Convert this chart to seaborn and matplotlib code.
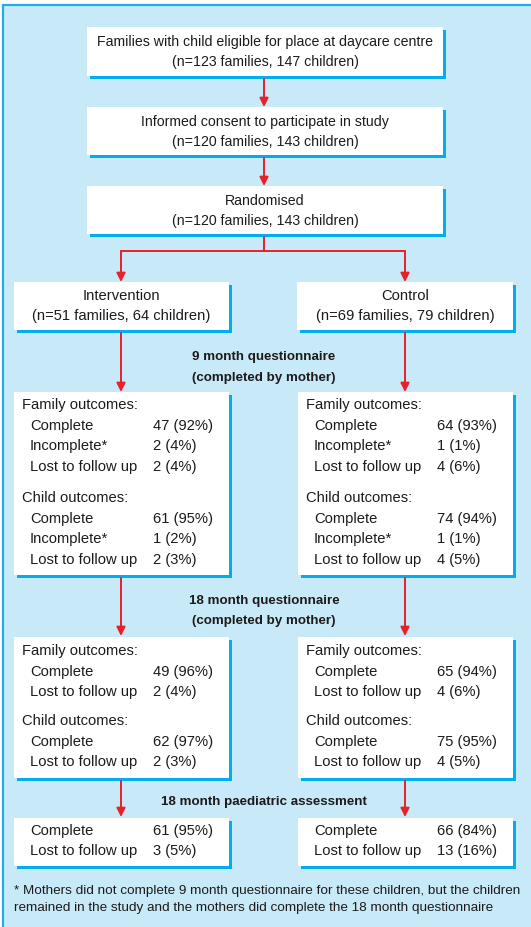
import matplotlib
matplotlib.use("Agg")
import matplotlib.pyplot as plt
import seaborn as sns
from matplotlib.patches import Rectangle

# --- data -------------------------------------------------------------
top_titles = ["Families with child eligible for place at daycare centre",
              "Informed consent to participate in study",
              "Randomised"]
top_families = [123, 120, 120]
top_children = [147, 143, 143]

arms = ["Intervention", "Control"]
arm_families = [51, 69]
arm_children = [64, 79]

stage_titles = ["9 month questionnaire\n(completed by mother)",
                "18 month questionnaire\n(completed by mother)",
                "18 month paediatric assessment"]

q9_labels = ["Complete", "Incomplete*", "Lost to follow up"]
q9_family_n = [[47, 2, 2], [64, 1, 4]]
q9_family_pct = [[92, 4, 4], [93, 1, 6]]
q9_child_n = [[61, 1, 2], [74, 1, 4]]
q9_child_pct = [[95, 2, 3], [94, 1, 5]]

q18_labels = ["Complete", "Lost to follow up"]
q18_family_n = [[49, 2], [65, 4]]
q18_family_pct = [[96, 4], [94, 6]]
q18_child_n = [[62, 2], [75, 4]]
q18_child_pct = [[97, 3], [95, 5]]

paed_labels = ["Complete", "Lost to follow up"]
paed_n = [[61, 3], [66, 13]]
paed_pct = [[95, 5], [84, 16]]

footnote = ("* Mothers did not complete 9 month questionnaire for these children, but the children\n"
            "remained in the study and the mothers did complete the 18 month questionnaire")

# --- style ------------------------------------------------------------
sns.set_theme(style="white")
plt.rcParams["font.family"] = ["Liberation Sans", "DejaVu Sans"]

BG = "#c8eaf8"
EDGE = "#22ade6"
SHADOW = "#00aeef"
RED = "#e8202a"
INK = "#1d1a1b"
FS = 10.6      # box text
FS_TOP = 10.2  # top chain boxes
FS_B = 9.6     # bold stage titles
FS_NOTE = 9.7  # footnote

fig = plt.figure(figsize=(5.31, 9.27), dpi=100)
ax = fig.add_axes([0, 0, 1, 1])
ax.set_xlim(0, 531)
ax.set_ylim(927, 0)
ax.axis("off")

ax.add_patch(Rectangle((3, 5), 540, 940, facecolor=BG, edgecolor="none"))
ax.plot([3, 531], [5, 5], color=EDGE, lw=1.6)
ax.plot([3, 3], [5, 927], color=EDGE, lw=1.6)


def box(x0, y0, x1, y1):
    ax.add_patch(Rectangle((x0 + 3, y0 + 3), x1 - x0, y1 - y0, facecolor=SHADOW, edgecolor="none"))
    ax.add_patch(Rectangle((x0, y0), x1 - x0, y1 - y0, facecolor="white", edgecolor="none"))


def arrow(x, y0, y1):
    ax.annotate("", xy=(x, y1), xytext=(x, y0),
                arrowprops=dict(arrowstyle="-|>", color=RED, lw=1.4,
                                mutation_scale=13, shrinkA=0, shrinkB=0))


def txt(x, y, s, ha="left", **kw):
    ax.text(x, y, s, ha=ha, va="center", fontsize=kw.pop("fontsize", FS),
            color=INK, **kw)


# top chain
top_y = [(27, 76), (107, 155), (186, 234)]
for i, (y0, y1) in enumerate(top_y):
    box(87, y0, 443, y1)
    txt(265, y0 + 15, top_titles[i], ha="center", fontsize=FS_TOP)
    txt(265, y0 + 35, f"(n={top_families[i]} families, {top_children[i]} children)",
        ha="center", fontsize=FS_TOP)
    if i < 2:
        arrow(264, y1 + 3, top_y[i + 1][0])

# branch
arm_cx = [121, 405]
ax.plot([264, 264], [237, 251], color=RED, lw=1.4)
ax.plot([arm_cx[0], arm_cx[1]], [251, 251], color=RED, lw=1.4)
arm_x = [(14, 229), (297, 513)]
for k in range(2):
    arrow(arm_cx[k], 251, 282)
    x0, x1 = arm_x[k]
    box(x0, 282, x1, 330)
    txt(arm_cx[k], 296, arms[k], ha="center")
    txt(arm_cx[k], 316, f"(n={arm_families[k]} families, {arm_children[k]} children)", ha="center")

col_head = [22, 306]
col_lab = [30, 314]
col_val = [153, 437]


def outcome_block(k, y, head, labels, ns, pcts):
    if head:
        txt(col_head[k], y, head)
        y += 21
    for lab, n, p in zip(labels, ns, pcts):
        txt(col_lab[k], y, lab)
        txt(col_val[k], y, f"{n} ({p}%)")
        y += 20.3
    return y


def stage(lines, ys):
    for line, y in zip(lines.split("\n"), ys):
        txt(264, y, line, ha="center", fontweight="bold", fontsize=FS_B)


# 9 month questionnaire
stage(stage_titles[0], [357, 378])
for k in range(2):
    arrow(arm_cx[k], 333, 392)
    x1 = arm_x[k][1]
    box(14 if k == 0 else 298, 392, x1, 575)
    outcome_block(k, 405, "Family outcomes:", q9_labels, q9_family_n[k], q9_family_pct[k])
    outcome_block(k, 498, "Child outcomes:", q9_labels, q9_child_n[k], q9_child_pct[k])

# 18 month questionnaire
stage(stage_titles[1], [601, 621])
for k in range(2):
    arrow(arm_cx[k], 578, 636)
    x1 = arm_x[k][1]
    box(14 if k == 0 else 298, 637, x1, 778)
    outcome_block(k, 651, "Family outcomes:", q18_labels, q18_family_n[k], q18_family_pct[k])
    outcome_block(k, 721, "Child outcomes:", q18_labels, q18_child_n[k], q18_child_pct[k])

# paediatric assessment
stage(stage_titles[2], [802])
for k in range(2):
    arrow(arm_cx[k], 781, 817)
    x1 = arm_x[k][1]
    box(14 if k == 0 else 298, 818, x1, 866)
    outcome_block(k, 831, None, paed_labels, paed_n[k], paed_pct[k])

# footnote
for j, line in enumerate(footnote.split("\n")):
    txt(14, 891 + 17 * j, line, fontsize=FS_NOTE)

fig.savefig("out.png", dpi=100, facecolor="white")
